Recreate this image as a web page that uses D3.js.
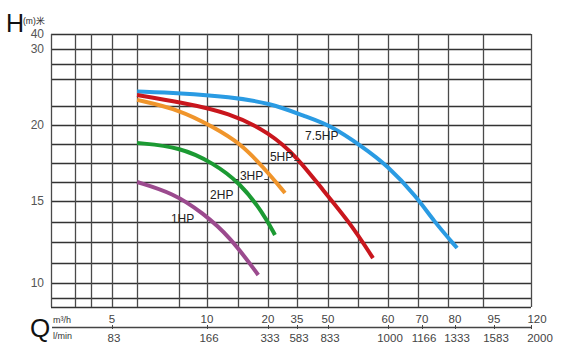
<!DOCTYPE html>
<html><head><meta charset="utf-8">
<script src="https://cdn.jsdelivr.net/npm/d3@7"></script>
<style>
html,body{margin:0;padding:0;background:#fff;}
svg{display:block;font-family:"Liberation Sans",Arial,sans-serif;}
</style></head>
<body><svg id="c" width="568" height="356"></svg>
<script>
// ---- data ----
const qTicks = [5, 10, 20, 35, 50, 60, 70, 80, 95, 120];          // m³/h
const qLmin  = [83, 166, 333, 583, 833, 1000, 1166, 1333, 1583, 2000]; // l/min
const hTicks = [10, 15, 20, 30, 40];
const gridQ = [0, 2, 3.3, 5, 6.3, 8.5, 10, 15, 20, 35, 50, 55, 60, 68.8, 77.9, 90.8, 120];
const gridH = [8.4, 9, 10, 11.25, 12.5, 13.75, 15, 16.25, 17.5, 18.75, 20, 22.5, 26, 28, 30, 40];

const seriesNames = ["7.5HP", "5HP", "3HP", "2HP", "1HP"];
const hp75Q = [6.32, 8.58, 13.77, 21.0, 39.8, 50.3, 55.8, 59.8, 68.5, 73.3, 80.8];
const hp75H = [24.4, 24.2, 23.7, 22.9, 21.05, 20.0, 18.55, 17.37, 15.26, 13.84, 12.13];
const hp5Q  = [6.32, 8.58, 13.77, 21.0, 35.0, 47.6, 53.7, 57.5];
const hp5H  = [23.95, 23.0, 21.6, 19.47, 17.9, 15.7, 13.66, 11.52];
const hp3Q  = [6.32, 8.58, 11.0, 15.4, 19.2, 28.8];
const hp3H  = [23.3, 22.0, 19.87, 18.82, 17.24, 15.53];
const hp2Q  = [6.32, 8.58, 11.0, 15.4, 19.2, 23.6];
const hp2H  = [18.82, 18.55, 17.5, 16.2, 14.27, 12.93];
const hp1Q  = [6.32, 8.21, 9.79, 13.8, 18.4];
const hp1H  = [16.25, 15.53, 14.27, 12.8, 10.49];
const seriesColors = ["#2a9be3", "#c9161d", "#f0952b", "#1c9a33", "#9b4a8e"];

const labelQ = [38.9, 21.0, 15.4, 10.5, 8.1];
const labelH = [19.0, 17.63, 16.38, 15.13, 13.66];

// ---- scales ----
const x = d3.scaleLinear()
  .domain([0, 5, 10, 20, 35, 50, 60, 70, 80, 95, 120])
  .range([51, 112, 207, 268, 297, 328, 388, 422, 455, 494, 531]);
const y = d3.scaleLinear()
  .domain([8.4, 10, 15, 20, 30, 40])
  .range([307, 283, 201, 125, 49, 34]);

const svg = d3.select("#c");
svg.append("rect").attr("width", 568).attr("height", 356).attr("fill", "#fff");

// grid
const g = svg.append("g");
g.selectAll("line.h").data(gridH).join("line")
  .attr("x1", x(0)).attr("x2", x(120))
  .attr("y1", d => Math.round(y(d)) + 0.5).attr("y2", d => Math.round(y(d)) + 0.5)
  .attr("stroke", "#333").attr("stroke-width", 1.3);
g.selectAll("line.v").data(gridQ).join("line")
  .attr("y1", y(8.4)).attr("y2", y(40))
  .attr("x1", d => Math.round(x(d)) + 0.5).attr("x2", d => Math.round(x(d)) + 0.5)
  .attr("stroke", "#4a4a4a").attr("stroke-width", 1.3);

// y labels
svg.selectAll("text.yl").data(hTicks).join("text")
  .attr("x", 44).attr("y", d => y(d) + 4)
  .attr("text-anchor", "end").attr("font-size", 12).attr("fill", "#555")
  .text(d => d);

// H title
svg.append("text").attr("x", 6).attr("y", 32).attr("font-size", 25).attr("fill", "#111").text("H");
svg.append("text").attr("x", 23).attr("y", 24).attr("font-size", 8.5).attr("fill", "#222").text("(m)米");

// curves
const allQ = [hp75Q, hp5Q, hp3Q, hp2Q, hp1Q];
const allH = [hp75H, hp5H, hp3H, hp2H, hp1H];
const line = d3.line().x(d => x(d[0])).y(d => y(d[1])).curve(d3.curveBasis);
seriesNames.forEach((n, i) => {
  const pts = allQ[i].map((q, j) => [q, allH[i][j]]);
  svg.append("path").attr("d", line(pts)).attr("fill", "none")
    .attr("stroke", seriesColors[i]).attr("stroke-width", 4).attr("stroke-linecap", "butt");
});

// series labels with leader lines
const leads = {"7.5HP": [0, 0], "5HP": [0, 5], "3HP": [3, 4], "2HP": [0, 0], "1HP": [8, 9]};
seriesNames.forEach((n, i) => {
  const tx = x(labelQ[i]), ty = y(labelH[i]);
  const t = svg.append("text").attr("x", tx).attr("y", ty).attr("font-size", 12)
    .attr("fill", "#222").text(n);
  const w = t.node().getComputedTextLength();
  const [l, r] = leads[n];
  if (l) svg.append("line").attr("x1", tx - l - 1).attr("x2", tx - 1).attr("y1", ty - 0.5).attr("y2", ty - 0.5)
    .attr("stroke", "#333").attr("stroke-width", 1);
  if (r) svg.append("line").attr("x1", tx + w + 1).attr("x2", tx + w + r + 1).attr("y1", ty - 0.5).attr("y2", ty - 0.5)
    .attr("stroke", "#333").attr("stroke-width", 1);
});

// Q axis
const axY = 327;
svg.append("text").attr("x", 30).attr("y", 337).attr("font-size", 26).attr("fill", "#111").text("Q");
svg.append("text").attr("x", 53).attr("y", 323).attr("font-size", 9).attr("fill", "#333").text("m³/h");
svg.append("text").attr("x", 53).attr("y", 339).attr("font-size", 9).attr("fill", "#333").text("l/min");
const ax = svg.append("g").attr("transform", `translate(0,${axY})`)
  .call(d3.axisBottom(x).tickValues(qTicks).tickSize(3).tickFormat(""));
ax.select(".domain").attr("d", `M52,0.5H${x(120)}`).attr("stroke", "#444").attr("stroke-width", 1.3);
ax.selectAll(".tick line").attr("y1", -2).attr("y2", 2).attr("stroke", "#444");
svg.selectAll("text.qt").data(qTicks).join("text")
  .attr("x", d => x(d) + (d === 120 ? 6 : 0)).attr("y", axY - 4)
  .attr("text-anchor", "middle").attr("font-size", 11.5).attr("fill", "#444").text(d => d);
svg.selectAll("text.ql").data(qLmin).join("text")
  .attr("x", (d, i) => x(qTicks[i]) + (i === qTicks.length - 1 ? 9 : 2)).attr("y", axY + 15)
  .attr("text-anchor", "middle").attr("font-size", 11.5).attr("fill", "#444").text(d => d);
</script></body></html>
